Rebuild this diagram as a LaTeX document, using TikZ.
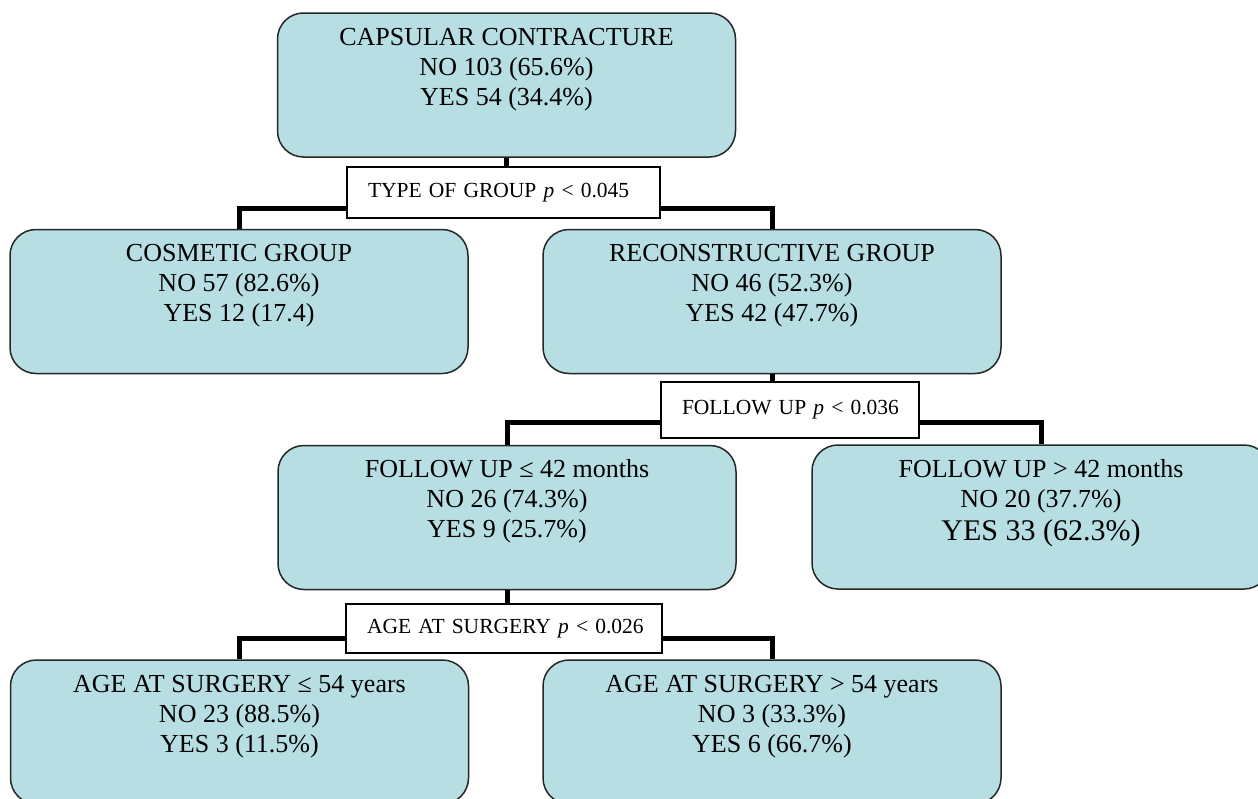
\documentclass[tikz,border=0pt]{standalone}
\usepackage{fontspec}
\setmainfont{Liberation Serif}
\definecolor{boxfill}{RGB}{183,222,226}
\begin{document}
\begin{tikzpicture}[x=1pt,y=-1pt,
  rbox/.style={draw=black!85, line width=1.5pt, fill=boxfill, rounded corners=26pt,
    minimum width=458pt, minimum height=144pt, inner sep=0pt},
  btext/.style={font=\fontsize{26}{30}\selectfont, align=center, inner sep=0pt, anchor=north},
  lab/.style={draw=black, line width=1.2pt, fill=white, inner xsep=21pt, inner ysep=0pt,
    align=left, font=\fontsize{21.5}{24}\selectfont},
  conn/.style={line width=5pt, draw=black}]
\useasboundingbox (0,0) rectangle (1258,798);

% boxes
\node[rbox] (root) at (506.5,85) {};
\node[rbox] (cos)  at (239,301.5) {};
\node[rbox] (rec)  at (772,301.5) {};
\node[rbox] (fua)  at (507,517.5) {};
\node[rbox] (fub)  at (1041,517) {};
\node[rbox] (aga)  at (239.5,732) {};
\node[rbox] (agb)  at (772,732) {};

% labels
\node[lab, text width=271pt, minimum height=51pt] (l1) at (503.5,192.5) {\mbox{TYPE OF GROUP \textit{p} < 0.045}};
\node[lab, text width=216pt, minimum height=56pt] (l2) at (790,410) {\mbox{FOLLOW UP \textit{p} < 0.036}};
\node[lab, text width=274pt, minimum height=49pt] (l3) at (504,628.5) {\mbox{AGE AT SURGERY \textit{p} < 0.026}};

% connectors
\draw[conn] (root.south) -- (root.south |- l1.north);
\draw[conn] ([yshift=-15.5pt]l1.west) -| (cos.north);
\draw[conn] ([yshift=-15.5pt]l1.east) -| (rec.north);
\draw[conn] (rec.south) -- (rec.south |- l2.north);
\draw[conn] ([yshift=-12pt]l2.west) -| (fua.north);
\draw[conn] ([yshift=-12pt]l2.east) -| (fub.north);
\draw[conn] (fua.south) -- (fua.south |- l3.north);
\draw[conn] ([yshift=-9.5pt]l3.west) -| (aga.north);
\draw[conn] ([yshift=-9.5pt]l3.east) -| (agb.north);

% box texts
\node[btext] (roott) at ([yshift=-12pt]root.north) {\strut CAPSULAR CONTRACTURE\\ NO 103 (65.6\%)\\ YES 54 (34.4\%)};
\node[btext] (cost) at ([yshift=-12pt]cos.north) {\strut COSMETIC GROUP\\ NO 57 (82.6\%)\\ YES 12 (17.4)};
\node[btext] (rect) at ([yshift=-12pt]rec.north) {\strut RECONSTRUCTIVE GROUP\\ NO 46 (52.3\%)\\ YES 42 (47.7\%)};
\node[btext] (fuat) at ([yshift=-12pt]fua.north) {\strut FOLLOW UP ≤ 42 months\\ NO 26 (74.3\%)\\ YES 9 (25.7\%)};
\node[btext] (fubt) at ([yshift=-12pt]fub.north) {\strut FOLLOW UP > 42 months\\ NO 20 (37.7\%)\\[3pt] {\fontsize{30}{33}\selectfont YES 33 (62.3\%)}};
\node[btext] (agat) at ([yshift=-12pt]aga.north) {\strut AGE AT SURGERY ≤ 54 years\\ NO 23 (88.5\%)\\ YES 3 (11.5\%)};
\node[btext] (agbt) at ([yshift=-12pt]agb.north) {\strut AGE AT SURGERY > 54 years\\ NO 3 (33.3\%)\\ YES 6 (66.7\%)};
\end{tikzpicture}
\end{document}
